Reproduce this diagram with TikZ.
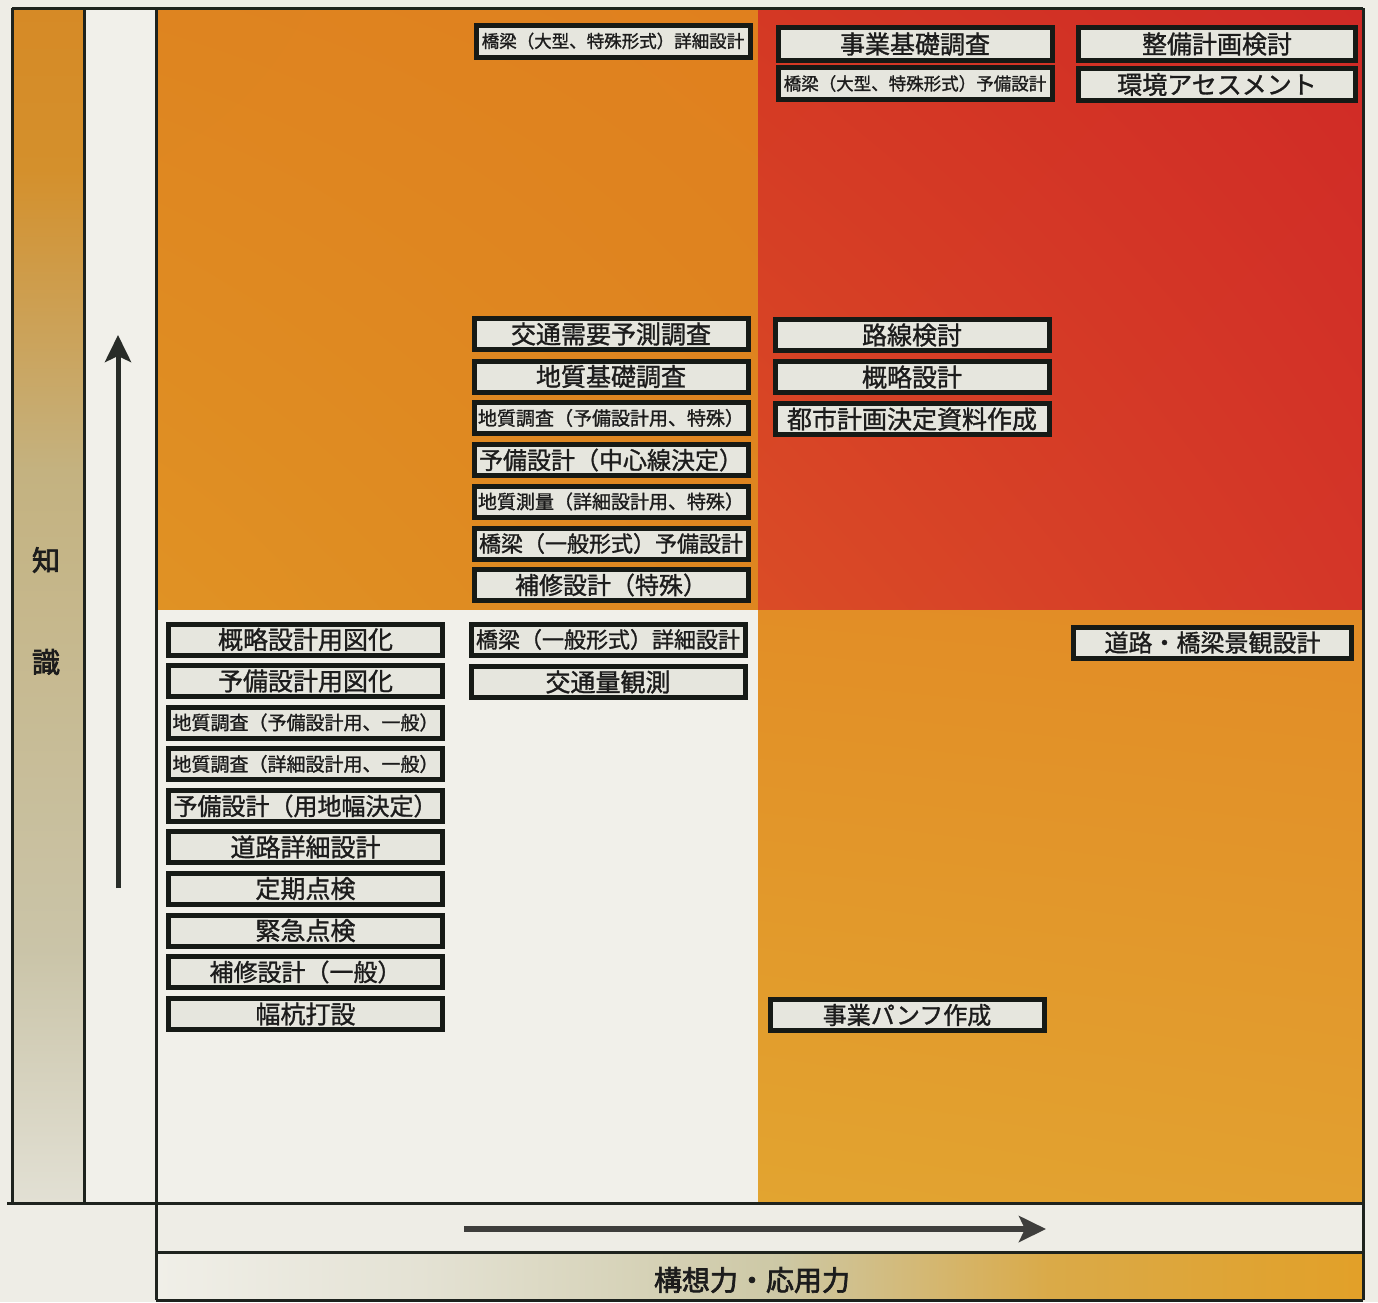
\documentclass[tikz,border=0pt]{standalone}
\usepackage{fontspec}
\newfontfamily\jp[FakeBold=1.2]{Noto Sans CJK JP}
\newfontfamily\jpb[FakeBold=2.5]{Noto Sans CJK JP}
\usetikzlibrary{arrows.meta,shadings}
\definecolor{bgc}{RGB}{238,237,230}
\definecolor{whitearea}{RGB}{241,240,234}
\definecolor{framec}{RGB}{30,35,30}
\definecolor{boxline}{RGB}{22,26,22}
\definecolor{boxfill}{RGB}{230,230,222}
\definecolor{boxtext}{RGB}{28,28,28}
\definecolor{arrowc}{RGB}{40,44,40}
\definecolor{harrowc}{RGB}{62,62,60}
% left strip
\definecolor{ls1}{RGB}{214,138,38}
\definecolor{ls2}{RGB}{212,144,44}
\definecolor{ls3}{RGB}{196,178,128}
\definecolor{ls4}{RGB}{202,196,168}
\definecolor{ls5}{RGB}{226,224,212}
% bottom band
\definecolor{bb1}{RGB}{240,239,232}
\definecolor{bb2}{RGB}{228,226,212}
\definecolor{bb3}{RGB}{205,200,165}
\definecolor{bb4}{RGB}{218,170,72}
\definecolor{bb5}{RGB}{226,160,40}
% quadrants
\definecolor{tlUL}{RGB}{222,132,32}
\definecolor{tlUR}{RGB}{224,128,30}
\definecolor{tlLL}{RGB}{224,146,36}
\definecolor{tlLR}{RGB}{222,134,32}
\definecolor{trUL}{RGB}{212,56,36}
\definecolor{trUR}{RGB}{208,42,38}
\definecolor{trLL}{RGB}{218,76,38}
\definecolor{trLR}{RGB}{212,54,40}
\definecolor{brUL}{RGB}{226,142,38}
\definecolor{brUR}{RGB}{226,140,38}
\definecolor{brLL}{RGB}{226,164,48}
\definecolor{brLR}{RGB}{226,160,48}
\begin{document}
\begin{tikzpicture}[x=1pt,y=-1pt,
  frame/.style={draw=framec,line width=3pt},
  jbox/.style={draw=boxline,line width=5pt,fill=boxfill,text=boxtext,inner sep=0pt,
    minimum width=274pt,minimum height=31pt,font=\jp\fontsize{25}{25}\selectfont},
  fsm/.style={font=\jp\fontsize{19}{19}\selectfont},
  fss/.style={font=\jp\fontsize{17.5}{17.5}\selectfont},
  fsb/.style={font=\jp\fontsize{22}{22}\selectfont},
  fsf/.style={font=\jp\fontsize{24}{24}\selectfont},
  lbl/.style={inner sep=0pt,text=boxtext,font=\jpb\fontsize{28}{28}\selectfont},
  varrow/.style={draw=arrowc,line width=5pt,-{Stealth[length=27pt,width=26pt,inset=6pt]}},
  harrow/.style={draw=harrowc,line width=6pt,-{Stealth[length=27pt,width=26pt,inset=6pt]}}
]
\useasboundingbox (0,0) rectangle (1378,1302);
\fill[bgc] (0,0) rectangle (1378,1302);

% left coloured strip
\shade[top color=ls1,bottom color=ls2] (12,8) rectangle (84,170.5);
\shade[top color=ls2,bottom color=ls3] (12,170) rectangle (84,470.5);
\shade[top color=ls3,bottom color=ls4] (12,470) rectangle (84,950.5);
\shade[top color=ls4,bottom color=ls5] (12,950) rectangle (84,1203);
% white strip
\fill[whitearea] (84,8) rectangle (156,1203);

% quadrants
\shade[upper left=tlUL,upper right=tlUR,lower left=tlLL,lower right=tlLR] (156,8) rectangle (758,610);
\shade[upper left=trUL,upper right=trUR,lower left=trLL,lower right=trLR] (758,8) rectangle (1363,610);
\fill[whitearea] (156,610) rectangle (758,1203);
\shade[upper left=brUL,upper right=brUR,lower left=brLL,lower right=brLR] (758,610) rectangle (1363,1203);

% bottom bands
\fill[bgc] (156,1203) rectangle (1363,1252);
\shade[left color=bb1,right color=bb2] (156,1252) rectangle (420.5,1300);
\shade[left color=bb2,right color=bb3] (420,1252) rectangle (780.5,1300);
\shade[left color=bb3,right color=bb4] (780,1252) rectangle (1050.5,1300);
\shade[left color=bb4,right color=bb5] (1050,1252) rectangle (1363,1300);

% frame lines
\draw[frame] (12,8) -- (1363,8);
\draw[frame] (12,8) -- (12,1203);
\draw[frame] (84,8) -- (84,1203);
\draw[frame] (156,8) -- (156,1300);
\draw[frame] (7,1203) -- (1363,1203);
\draw[frame] (156,1252) -- (1363,1252);
\draw[frame] (156,1300) -- (1363,1300);
\draw[frame] (1363,8) -- (1363,1300);

% arrows
\coordinate (va) at (118,888);
\coordinate (vb) at (118,335);
\draw[varrow] (va) -- (vb);
\coordinate (ha) at (464,1229);
\coordinate (hb) at (1046,1229);
\draw[harrow] (ha) -- (hb);

% axis labels
\node[lbl] (lk1) at (46,560) {知};
\node[lbl] (lk2) at (46,662) {識};
\node[lbl] (lx) at (752,1280) {構想力・応用力};

% top row
\node[jbox,fss,minimum height=32pt] (n1) at (613,41) {橋梁（大型、特殊形式）詳細設計};
\node[jbox,minimum height=33pt] (n2) at (915,44) {事業基礎調査};
\node[jbox,fss,minimum height=32pt] (n3) at (915,83.5) {橋梁（大型、特殊形式）予備設計};
\node[jbox,minimum width=277pt,minimum height=33pt] (n4) at (1217,44) {整備計画検討};
\node[jbox,minimum width=277pt,minimum height=32pt] (n5) at (1217,84.5) {環境アセスメント};

% middle column (upper)
\node[jbox] (m1) at (611,334) {交通需要予測調査};
\node[jbox] (m2) at (611,376.5) {地質基礎調査};
\node[jbox,fsm] (m3) at (611,418) {地質調査（予備設計用、特殊）};
\node[jbox,fsf] (m4) at (611,460) {予備設計（中心線決定）};
\node[jbox,fsm] (m5) at (611,501.5) {地質測量（詳細設計用、特殊）};
\node[jbox,fsb] (m6) at (611,543.5) {橋梁（一般形式）予備設計};
\node[jbox,fsf] (m7) at (611,585) {補修設計（特殊）};

% right column (upper)
\node[jbox] (r1) at (912,335) {路線検討};
\node[jbox] (r2) at (912,377) {概略設計};
\node[jbox] (r3) at (912,419) {都市計画決定資料作成};

% left column (lower)
\node[jbox] (l1) at (305.5,639.5) {概略設計用図化};
\node[jbox] (l2) at (305.5,681) {予備設計用図化};
\node[jbox,fsm] (l3) at (305.5,722.5) {地質調査（予備設計用、一般）};
\node[jbox,fsm] (l4) at (305.5,764) {地質調査（詳細設計用、一般）};
\node[jbox,fsf] (l5) at (305.5,806) {予備設計（用地幅決定）};
\node[jbox] (l6) at (305.5,847) {道路詳細設計};
\node[jbox] (l7) at (305.5,888.5) {定期点検};
\node[jbox] (l8) at (305.5,930.5) {緊急点検};
\node[jbox,fsf] (l9) at (305.5,972) {補修設計（一般）};
\node[jbox] (l10) at (305.5,1014) {幅杭打設};

% middle column (lower)
\node[jbox,fsb] (k1) at (608,639.5) {橋梁（一般形式）詳細設計};
\node[jbox] (k2) at (608,682) {交通量観測};

% right side (lower)
\node[jbox,fsf,minimum width=278pt] (s1) at (1212.5,642.5) {道路・橋梁景観設計};
\node[jbox,fsf] (s2) at (907,1015) {事業パンフ作成};
\end{tikzpicture}
\end{document}
